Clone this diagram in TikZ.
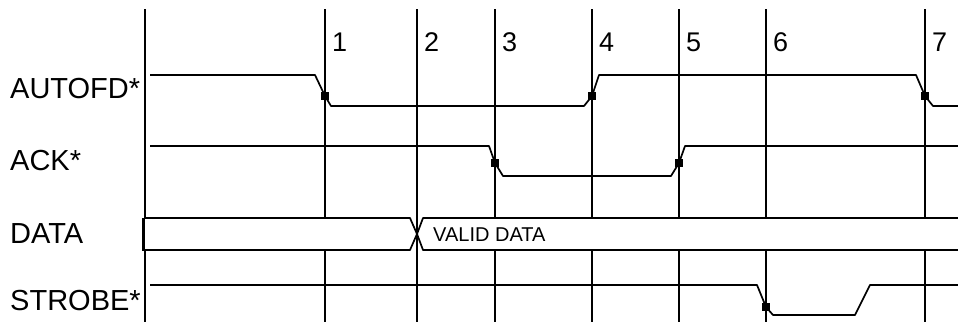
\documentclass[tikz,border=0pt]{standalone}
\usepackage{fontspec}
\setmainfont{Liberation Sans}
\usetikzlibrary{positioning}

\begin{document}
\begin{tikzpicture}[x=1pt, y=-1pt,
  grid/.style={line width=1.9pt},
  sig/.style={line width=1.7pt, line join=round},
  lbl/.style={anchor=west, inner sep=0pt, font=\fontsize{29}{30}\selectfont},
  num/.style={anchor=west, inner sep=0pt, font=\fontsize{27}{28}\selectfont},
  sq/.style={fill, minimum width=7.5pt, minimum height=8.5pt, inner sep=0pt}
]
\useasboundingbox (0,0) rectangle (958,322);
% time lines and their numbers (broken by the data bus)
\foreach \x in {145,325,495,592,679,766,925}{
  \draw[grid] (\x,9) -- (\x,218);
  \draw[grid] (\x,250) -- (\x,322);
}
\draw[grid] (417,9) -- (417,322);
\foreach \n/\x in {1/325,2/417,3/495,4/592,5/679,6/766,7/925}
  \node[num] (n\n) at (\x+7,42) {\n};
% signal names
\node[lbl] (autofd) at (10,89) {AUTOFD*};
\node[lbl] (ack) at (10,161) {ACK*};
\node[lbl] (data) at (10,234) {DATA};
\node[lbl] (strobe) at (10,301) {STROBE*};
% waveforms
\draw[sig] (150,75) -- (315,75) -- (325,96) -- (331,106) -- (584,106)
  -- (592,96) -- (599,75) -- (916,75) -- (925,96) -- (933,106) -- (958,106);
\draw[sig] (150,146) -- (489,146) -- (495,163) -- (503,176) -- (671,176)
  -- (679,163) -- (685,146) -- (958,146);
\draw[sig] (410,218) -- (145,218) -- (410,218) -- (417,234) -- (410,250)
  -- (145,250);
\draw[line width=2.6pt] (143.5,217.5) -- (143.5,250.5);
\draw[sig] (958,218) -- (423,218) -- (417,234) -- (423,250) -- (958,250);
\draw[sig] (150,285) -- (757,285) -- (766,307) -- (773,315) -- (855,315)
  -- (870,285) -- (958,285);
\node[anchor=west, inner sep=0pt, font=\fontsize{20}{21}\selectfont]
  (valid) at (433,235) {VALID DATA};
% edge markers
\node[sq] (m1) at (325,96) {};
\node[sq] (m4) at (592,96) {};
\node[sq] (m7) at (925,96) {};
\node[sq] (m3) at (495,163) {};
\node[sq] (m5) at (679,163) {};
\node[sq] (m6) at (766,307) {};
\end{tikzpicture}
\end{document}
